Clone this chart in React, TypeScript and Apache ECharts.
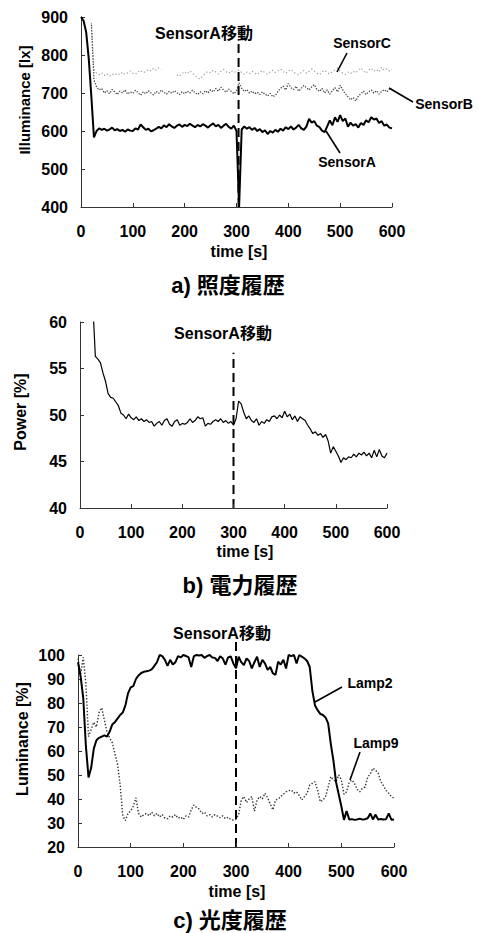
import React, { useEffect, useRef } from "react";
import * as echarts from "echarts";

const FONT = '"Liberation Sans", "Noto Sans CJK JP", Arial, sans-serif';
const CJK = '"Liberation Sans", "Noto Sans CJK JP", sans-serif';

// sampling clock of the logger: one sample every 5 s from 0 to 600 s
const sampleTimes: number[] = Array.from({ length: 121 }, (_, i) => i * 5);
const timeTicks = [0, 100, 200, 300, 400, 500, 600];

// a) illuminance [lx]
const sensorA: (number | null)[] = [
  900, 890, 860, 790, 690, 583, 600, 607, 603, 606,
  601, 604, 609, 602, 605, 600, 603, 598, 604, 601,
  600, 607, 604, 617, 610, 603, 606, 599, 602, 606,
  611, 607, 615, 610, 618, 612, 608, 614, 617, 611,
  616, 613, 619, 614, 610, 616, 612, 618, 614, 609,
  615, 620, 612, 616, 608, 614, 619, 611, 606, 614,
  600, 400, 604, 612, 606, 610, 603, 608, 600, 605,
  597, 602, 592, 600, 596, 603, 598, 606, 601, 610,
  605, 612, 604, 609, 616, 607, 603, 612, 632, 622,
  626, 614, 610, 601, 597, 612, 628, 615, 636, 624,
  642, 626, 633, 611, 622, 614, 618, 609, 621, 616,
  628, 623, 636, 630, 633, 621, 626, 614, 617, 609,
  607,
];
const sensorB: (number | null)[] = [
  null, null, null, null, 880, 735, 716, 708, 712, 700,
  706, 698, 709, 703, 696, 705, 700, 708, 697, 703,
  699, 707, 701, 694, 703, 698, 706, 700, 695, 704,
  699, 708, 702, 697, 704, 699, 706, 701, 696, 703,
  698, 705, 700, 707, 701, 696, 703, 698, 706, 700,
  709, 703, 712, 705, 715, 708, 702, 710, 704, 698,
  706, 727, 712, 704, 709, 700, 705, 698, 702, 696,
  703, 697, 692, 699, 690, 694, 704, 712, 718, 708,
  725, 714, 709, 718, 705, 712, 720, 714, 708, 716,
  722, 710, 704, 712, 700, 708, 697, 706, 714, 703,
  720, 708, 698, 690, 682, 688, 679, 692, 698, 705,
  696, 703, 708, 700, 706, 697, 704, 709, 703, 710,
  712,
];
const sensorC: (number | null)[] = [
  null, null, null, null, 885, 762, 752, 748, 753, 746,
  751, 744, 750, 747, 752, 748, 755, 749, 753, 758,
  752, 749, 755, 760, 753, 757, 762, 758, 765, 760,
  766, 762, null, null, null, null, null, 748, 744, 751,
  756, 750, 758, 753, 746, 740, 737, 745, 752, 757,
  753, 760, 755, 750, 757, 762, 756, 752, 759, 754,
  757, 760, 754, 749, 755, 751, 757, 753, 748, 755,
  759, 753, 749, 756, 760, 754, 758, 763, 757, 751,
  758, 762, 756, 750, 748, 754, 759, 752, 757, 763,
  758, 752, 748, 755, 760, 754, 750, 757, 761, 766,
  758, 752, 749, 755, 751, 757, 753, 760, 766, 758,
  752, 760, 765, 757, 762, 755, 768, 760, 764, 758,
  762,
];
const luxTicks = { min: 400, max: 900, step: 100 };

// b) power [%]
const power: (number | null)[] = [
  null, null, null, null, null, 62, 56.3, 56.0, 55.6, 54.5,
  53.6, 52.3, 51.9, 51.8, 51.4, 51.0, 50.2, 50.0, 49.6, 50.1,
  49.7, 49.5, 49.8, 49.4, 49.6, 49.3, 49.5, 49.2, 49.3, 48.8,
  49.1, 49.3, 48.9, 49.4, 49.6, 49.0, 48.8, 49.3, 49.5, 48.9,
  49.1, 49.0, 49.2, 49.6, 49.2, 49.4, 49.8, 49.6, 49.7, 48.8,
  49.1, 49.0, 49.3, 49.5, 49.3, 49.6, 49.2, 49.4, 49.1, 49.3,
  48.9, 49.6, 51.5, 51.2, 50.3, 49.6, 49.9, 49.4, 49.2, 49.6,
  48.9, 49.3, 49.1, 49.5, 49.3, 49.8, 49.9, 49.6, 50.0, 49.7,
  50.4, 49.8, 50.1, 49.5, 49.9, 49.3, 49.8, 49.6, 49.4, 48.9,
  48.5, 48.0, 48.2, 47.8, 48.0, 47.6, 47.9, 47.2, 45.9, 46.6,
  46.1, 45.6, 44.9, 45.4, 45.2, 45.5, 45.4, 45.8, 45.5, 45.9,
  45.7, 46.0, 45.6, 45.9, 45.4, 46.2, 45.5, 46.3, 45.6, 45.4,
  45.9,
];
const powerTicks = { min: 40, max: 60, step: 5 };

// c) luminance [%]
const lamp2: (number | null)[] = [
  97, 91, 82, 62, 49, 53, 61, 64.5, 65.5, 66,
  66.5, 66, 68, 71, 72, 73.5, 75, 76, 79, 84,
  86.5, 87, 90, 91.5, 92.5, 93, 93.2, 93.5, 94, 95.5,
  97, 100, 99.5, 98, 95.5, 98, 96, 97, 99.5, 99,
  100, 99.6, 99, 95, 99.5, 100, 99.8, 100, 98.8, 99.5,
  100, 99, 98.8, 97.5, 99.5, 98.5, 96, 99, 99.4, 96.5,
  94.5, 99.3, 97, 95.8, 98.6, 97.5, 94.4, 97, 99.3, 95,
  98, 96.5, 93.8, 95, 92.4, 91.7, 97.2, 96, 98, 94.4,
  100, 99.5, 100, 96.5, 100, 99.3, 98.6, 97.5, 95, 85,
  79, 77, 75.5, 75, 74, 71.5, 63, 56, 47, 42,
  37, 31.3, 35, 31.5, 31.6, 31.3, 31.5, 31.8, 31.4, 31.6,
  32, 34, 31.5, 33.5, 31.4, 31.7, 31.5, 31.6, 34, 31.4,
  31.5,
];
const lamp9: (number | null)[] = [
  98.5, 92, 99, 88, 66, 69, 72, 70, 76, 78,
  73, 68, 65.5, 63.5, 59, 54.5, 46, 33, 31, 34,
  35, 37, 40.5, 34, 32.5, 33.5, 34, 33, 34.5, 33,
  34, 32.5, 33.5, 32, 31.8, 33, 32.5, 33.5, 32, 32.5,
  31.5, 33, 32.5, 35.5, 37.5, 36.5, 35.8, 34, 34.5, 33,
  33.5, 32.5, 33.5, 32.8, 32.2, 33, 31.8, 32.4, 31.5, 31.2,
  31.6, 33.5, 39.5, 41, 38.5, 40, 41, 35, 39.5, 41,
  40, 42.4, 40.5, 38, 35.5, 39.5, 40, 41, 42, 43,
  43.5, 43.7, 42.5, 43, 41.5, 39.6, 41, 42.4, 45.8, 46.5,
  47.2, 43.7, 38.9, 39.5, 41, 45, 49.3, 48, 47.2, 50,
  48, 42, 43, 47, 47.9, 46.5, 44, 43, 44.5, 45,
  49, 50.5, 52.8, 52, 50.7, 47.2, 45.5, 43.5, 42.4, 41,
  40.3,
];
const lumTicks = { min: 20, max: 100, step: 10 };

// event: SensorA moved (time [s]) and the top end of each dashed marker
const moveEvent = [
  { grid: 0, t: 304, from: 400, to: 834 },
  { grid: 1, t: 300, from: 40, to: 56.7 },
  { grid: 2, t: 300, from: 20, to: 105.4 },
];

const pairs = (vals: (number | null)[]) => sampleTimes.map((t, i) => [t, vals[i]]);

const axisLine = { show: true, lineStyle: { color: "#333", width: 1 } };
const axisTick = { show: true, inside: true, length: 4, lineStyle: { color: "#333", width: 1 } };
const tickLabel = (margin: number) => ({
  color: "#000",
  fontSize: 16,
  fontWeight: "bold",
  fontFamily: FONT,
  margin,
});

const txt = (text: string, x: number, y: number, size: number, rot = 0) => ({
  type: "text",
  x,
  y,
  rotation: rot,
  silent: true,
  style: {
    text,
    fill: "#000",
    fontSize: size,
    fontWeight: "bold",
    fontFamily: CJK,
    align: "center",
    verticalAlign: "middle",
  },
});
const leader = (x1: number, y1: number, x2: number, y2: number) => ({
  type: "line",
  silent: true,
  shape: { x1, y1, x2, y2 },
  style: { stroke: "#000", lineWidth: 1.6 },
});

export default function App() {
  const ref = useRef<HTMLDivElement>(null);
  useEffect(() => {
    document.body.style.margin = "0";
    if (!ref.current) return;
    const chart = echarts.init(ref.current, undefined, { renderer: "svg" });
    const grids = [
      { left: 81, top: 17, width: 311, height: 190 },
      { left: 80, top: 322, width: 307, height: 186 },
      { left: 78, top: 655, width: 316, height: 192 },
    ];
    const yDefs = [luxTicks, powerTicks, lumTicks];
    const option: any = {
      animation: false,
      backgroundColor: "#fff",
      grid: grids,
      xAxis: grids.map((_, i) => ({
        type: "value",
        gridIndex: i,
        min: timeTicks[0],
        max: timeTicks[timeTicks.length - 1],
        interval: timeTicks[1] - timeTicks[0],
        axisLine,
        axisTick,
        splitLine: { show: false },
        axisLabel: tickLabel(16),
      })),
      yAxis: yDefs.map((d, i) => ({
        type: "value",
        gridIndex: i,
        min: d.min,
        max: d.max,
        interval: d.step,
        axisLine,
        axisTick,
        splitLine: { show: false },
        axisLabel: tickLabel(13),
      })),
      series: [
        {
          name: "SensorC", type: "line", xAxisIndex: 0, yAxisIndex: 0, data: pairs(sensorC),
          showSymbol: false, symbol: "none", connectNulls: false,
          lineStyle: { color: "#9a9a9a", width: 1.2, type: [1.2, 2.4] },
        },
        {
          name: "SensorB", type: "line", xAxisIndex: 0, yAxisIndex: 0, data: pairs(sensorB),
          showSymbol: false, symbol: "none", connectNulls: false,
          lineStyle: { color: "#444", width: 1.3, type: [1.3, 1.5] },
        },
        {
          name: "SensorA", type: "line", xAxisIndex: 0, yAxisIndex: 0, data: pairs(sensorA),
          showSymbol: false, symbol: "none",
          lineStyle: { color: "#000", width: 2 },
        },
        {
          name: "Power", type: "line", xAxisIndex: 1, yAxisIndex: 1, data: pairs(power),
          showSymbol: false, symbol: "none", connectNulls: false,
          lineStyle: { color: "#000", width: 1.2 },
        },
        {
          name: "Lamp9", type: "line", xAxisIndex: 2, yAxisIndex: 2, data: pairs(lamp9),
          showSymbol: false, symbol: "none",
          lineStyle: { color: "#333", width: 1.4, type: [1.4, 1.8] },
        },
        {
          name: "Lamp2", type: "line", xAxisIndex: 2, yAxisIndex: 2, data: pairs(lamp2),
          showSymbol: false, symbol: "none",
          lineStyle: { color: "#000", width: 2 },
        },
      ],
    };
    chart.setOption(option);

    const dashed = moveEvent.map((m) => {
      const p1 = chart.convertToPixel({ gridIndex: m.grid }, [m.t, m.from]) as number[];
      const p2 = chart.convertToPixel({ gridIndex: m.grid }, [m.t, m.to]) as number[];
      return {
        type: "line",
        silent: true,
        shape: { x1: p1[0], y1: p1[1], x2: p2[0], y2: p2[1] },
        style: { stroke: "#000", lineWidth: 2, lineDash: [9, 5] },
      };
    });

    const graphic = [
      ...dashed,
      // annotations
      txt("SensorA移動", 204, 33, 16),
      txt("SensorA移動", 223, 333, 16),
      txt("SensorA移動", 222, 633, 16),
      // series labels, chart a
      txt("SensorC", 362, 43, 14),
      leader(347, 53, 337, 72),
      txt("SensorB", 444, 104, 14),
      leader(389, 88, 413, 102),
      txt("SensorA", 347, 162, 14),
      leader(326, 131, 340, 153),
      // chart c
      txt("Lamp2", 370, 683, 14),
      leader(342, 687, 315, 702),
      txt("Lamp9", 376, 743, 14),
      leader(360, 752, 350, 780),
      // axis names
      txt("Illuminance [lx]", 24, 100, 15, Math.PI / 2),
      txt("Power [%]", 20, 412, 16, Math.PI / 2),
      txt("Luminance [%]", 22, 739, 16, Math.PI / 2),
      txt("time [s]", 239, 251, 16),
      txt("time [s]", 245, 551, 16),
      txt("time [s]", 237, 891, 16),
      // captions
      txt("a) 照度履歴", 228, 285, 22),
      txt("b) 電力履歴", 240, 585, 22),
      txt("c) 光度履歴", 230, 920, 22),
    ];
    chart.setOption({ graphic });

    return () => chart.dispose();
  }, []);
  return <div ref={ref} style={{ width: 478, height: 933 }} />;
}
